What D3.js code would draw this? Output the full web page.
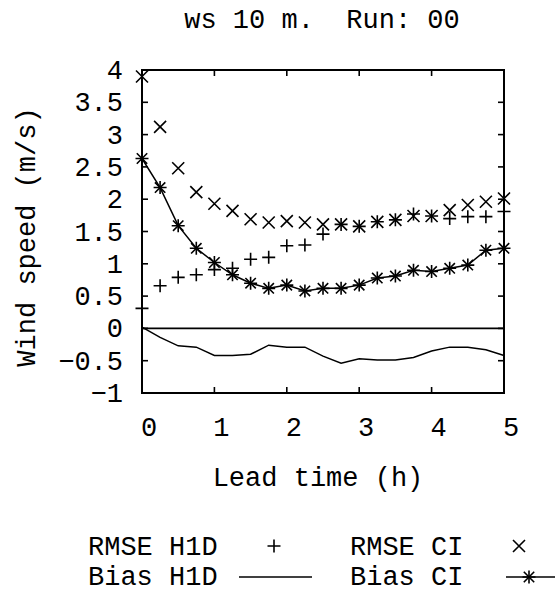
<!DOCTYPE html>
<html>
<head>
<meta charset="utf-8">
<title>ws 10 m. Run: 00</title>
<style>
  body { margin: 0; background: #fff; }
  text { font-family: "Liberation Mono", "DejaVu Sans Mono", monospace; fill: #000; }
</style>
</head>
<body>
<svg></svg>
<script src="https://d3js.org/d3.v7.min.js"></script>
<script>
// lead time (h)
var leadTime = [0, 0.25, 0.5, 0.75, 1, 1.25, 1.5, 1.75, 2, 2.25, 2.5,
                2.75, 3, 3.25, 3.5, 3.75, 4, 4.25, 4.5, 4.75, 5];
var rmseH1D = [0.31, 0.66, 0.79, 0.83, 0.91, 0.93, 1.07, 1.10, 1.28, 1.29, 1.46,
               1.61, 1.58, 1.65, 1.68, 1.77, 1.74, 1.70, 1.73, 1.73, 1.81];
var rmseCI  = [3.90, 3.12, 2.48, 2.11, 1.93, 1.82, 1.69, 1.64, 1.66, 1.64, 1.61,
               1.61, 1.58, 1.65, 1.68, 1.74, 1.74, 1.83, 1.91, 1.96, 2.01];
var biasH1D = [0.02, -0.14, -0.27, -0.29, -0.42, -0.42, -0.40, -0.26, -0.29, -0.29, -0.43,
               -0.54, -0.47, -0.49, -0.49, -0.45, -0.35, -0.29, -0.29, -0.33, -0.42];
var biasCI  = [2.63, 2.18, 1.59, 1.24, 1.02, 0.83, 0.70, 0.62, 0.67, 0.58, 0.62,
               0.62, 0.67, 0.78, 0.81, 0.90, 0.88, 0.93, 0.98, 1.21, 1.24];
var xTicks = [0, 1, 2, 3, 4, 5];
var yTicks = [-1, -0.5, 0, 0.5, 1, 1.5, 2, 2.5, 3, 3.5, 4];

var width = 555, height = 592;
var svg = d3.select("svg").attr("width", width).attr("height", height);

var x = d3.scaleLinear().domain([0, 5]).range([142, 504]);
var y = d3.scaleLinear().domain([-1, 4]).range([393, 70]);

// marker shapes, gnuplot style
function plus(g, cx, cy, s) {
  g.append("path").attr("d", "M" + (cx - s) + "," + cy + "H" + (cx + s) + "M" + cx + "," + (cy - s) + "V" + (cy + s));
}
function cross(g, cx, cy, s) {
  g.append("path").attr("d", "M" + (cx - s) + "," + (cy - s) + "L" + (cx + s) + "," + (cy + s) +
    "M" + (cx - s) + "," + (cy + s) + "L" + (cx + s) + "," + (cy - s));
}
function star(g, cx, cy, s) { plus(g, cx, cy, s); cross(g, cx, cy, s * 0.8); }

var marks = svg.append("g").attr("stroke", "#000").attr("stroke-width", 1.6).attr("fill", "none");

// zero axis
marks.append("line").attr("x1", x(0)).attr("x2", x(5)).attr("y1", y(0)).attr("y2", y(0));

// ticks (inward, all sides)
var tl = 6;
xTicks.slice(1, -1).forEach(function(t) {
  marks.append("line").attr("x1", x(t)).attr("x2", x(t)).attr("y1", y(-1)).attr("y2", y(-1) - tl);
  marks.append("line").attr("x1", x(t)).attr("x2", x(t)).attr("y1", y(4)).attr("y2", y(4) + tl);
});
yTicks.slice(1, -1).forEach(function(t) {
  marks.append("line").attr("x1", x(0)).attr("x2", x(0) + tl).attr("y1", y(t)).attr("y2", y(t));
  marks.append("line").attr("x1", x(5)).attr("x2", x(5) - tl).attr("y1", y(t)).attr("y2", y(t));
});

// border
marks.append("rect").attr("x", x(0)).attr("y", y(4))
  .attr("width", x(5) - x(0)).attr("height", y(-1) - y(4)).attr("stroke-width", 2);

var line = d3.line().x(function(d, i) { return x(leadTime[i]); }).y(function(d) { return y(d); });

marks.append("path").attr("d", line(biasH1D)).attr("stroke-width", 1.5);
marks.append("path").attr("d", line(biasCI)).attr("stroke-width", 1.5);

leadTime.forEach(function(t, i) {
  plus(marks, x(t), y(rmseH1D[i]), 6.5);
  cross(marks, x(t), y(rmseCI[i]), 6);
  star(marks, x(t), y(biasCI[i]), 6.5);
});

// tick labels
var fs = 27;
svg.append("g").selectAll("text").data(xTicks).enter().append("text")
  .attr("x", function(d) { return x(d) + 7; }).attr("y", 436)
  .attr("text-anchor", "middle").style("font-size", fs + "px").text(function(d) { return d; });
svg.append("g").selectAll("text").data(yTicks).enter().append("text")
  .attr("x", 123).attr("y", function(d) { return y(d) + 9; })
  .attr("text-anchor", "end").style("font-size", fs + "px")
  .text(function(d) { return String(d).replace("-", "\u2212"); });

// title and axis labels
svg.append("text").attr("x", 322).attr("y", 28).attr("text-anchor", "middle")
  .style("font-size", fs + "px").attr("xml:space", "preserve").text("ws 10 m.  Run: 00");
svg.append("text").attr("x", 318).attr("y", 486).attr("text-anchor", "middle")
  .style("font-size", fs + "px").text("Lead time (h)");
svg.append("text").attr("transform", "translate(35,237) rotate(-90)").attr("text-anchor", "middle")
  .style("font-size", fs + "px").text("Wind speed (m/s)");

// legend
var legend = svg.append("g");
legend.append("text").attr("x", 88).attr("y", 555).style("font-size", fs + "px").text("RMSE H1D");
legend.append("text").attr("x", 350).attr("y", 555).style("font-size", fs + "px").text("RMSE CI");
legend.append("text").attr("x", 88).attr("y", 585).style("font-size", fs + "px").text("Bias H1D");
legend.append("text").attr("x", 350).attr("y", 585).style("font-size", fs + "px").text("Bias CI");
var lm = legend.append("g").attr("stroke", "#000").attr("stroke-width", 1.6).attr("fill", "none");
plus(lm, 274, 546, 6.5);
cross(lm, 519, 546, 6);
lm.append("line").attr("x1", 239).attr("x2", 312).attr("y1", 577).attr("y2", 577);
lm.append("line").attr("x1", 506).attr("x2", 555).attr("y1", 577).attr("y2", 577);
star(lm, 529, 577, 6.5);
</script>
</body>
</html>
